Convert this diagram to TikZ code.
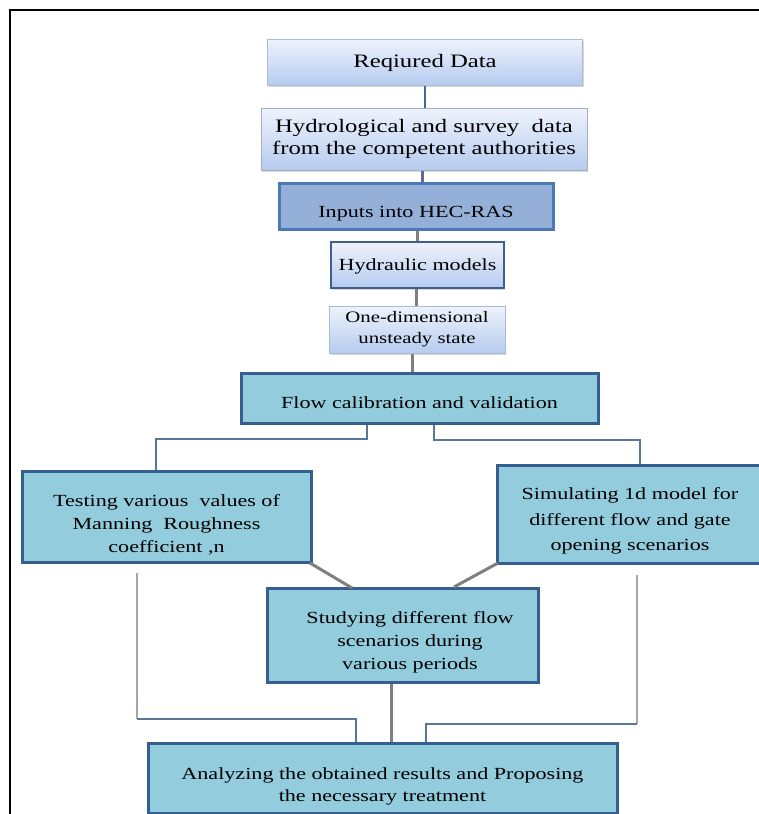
\documentclass[tikz,border=0pt]{standalone}
\usepackage{fontspec}
\setmainfont[FakeStretch=1.3]{Liberation Serif}
\usetikzlibrary{shadings,shadows}
\definecolor{ltop}{HTML}{EEF3FC}
\definecolor{lbot}{HTML}{B6CBEF}
\definecolor{ledge}{HTML}{A9BCD6}
\definecolor{dedge}{HTML}{3F5F8F}
\definecolor{midfill}{HTML}{94B0D8}
\definecolor{midedge}{HTML}{4C79B5}
\definecolor{tealfill}{HTML}{93CDDD}
\definecolor{tealedge}{HTML}{365F8F}
\definecolor{conblue}{HTML}{3D6A98}
\definecolor{congrey}{HTML}{7F7F7F}
\definecolor{branch}{HTML}{5A7896}
\definecolor{fbgrey}{HTML}{A6A6A6}
\newcommand\pushdown[1]{\rule{0pt}{#1}}
\begin{document}
\begin{tikzpicture}[x=1pt,y=-1pt,
  base/.style={align=center, inner sep=0pt, text=black},
  lightbox/.style={base, draw=ledge, line width=1pt, top color=ltop, bottom color=lbot,
     drop shadow={shadow xshift=1pt, shadow yshift=-2pt, fill=black!25, opacity=0.6}},
  midbox/.style={base, draw=midedge, line width=3pt, fill=midfill},
  tealbox/.style={base, draw=tealedge, line width=3pt, fill=tealfill},
  fs/.style={font=\fontsize{17}{23}\selectfont},
  thickcon/.style={draw=congrey, line width=3pt},
  bluecon/.style={draw=conblue, line width=2.5pt},
  branchline/.style={draw=branch, line width=1.5pt},
  fbline/.style={draw=fbgrey, line width=1.2pt},
]
\useasboundingbox (0,0) rectangle (759,814);
\fill[white] (0,0) rectangle (759,814);
\draw[black, line width=2pt] (10,814) -- (10,10) -- (759,10);

% boxes
\node[lightbox, minimum width=315pt, minimum height=46pt, font=\fontsize{19}{22}\selectfont] (req) at (425,62) {\pushdown{16pt}Reqiured Data};
\node[lightbox, draw=ledge!80!gray, minimum width=326pt, minimum height=62pt, font=\fontsize{19}{22}\selectfont] (hyd) at (424,139) {Hydrological and survey\ \ data\\from the competent authorities};
\node[midbox, fs, minimum width=274pt, minimum height=46pt] (inp) at (416,206) {\pushdown{26pt}Inputs into HEC-RAS};
\node[lightbox, draw=dedge, line width=2pt, fs, minimum width=173pt, minimum height=46pt] (hm) at (417.5,265) {\pushdown{15pt}Hydraulic models};
\node[lightbox, font=\fontsize{16}{21}\selectfont, minimum width=176pt, minimum height=47pt] (one) at (417,329.5) {One-dimensional\\unsteady state};
\node[tealbox, fs, minimum width=357pt, minimum height=50pt] (flow) at (419.5,398) {\pushdown{22pt}Flow calibration and validation};
\node[tealbox, fs, minimum width=289pt, minimum height=91pt] (test) at (166.5,516.5) {\pushdown{28pt}Testing various\ \ values of\\Manning\ \ Roughness\\coefficient ,n};
\node[tealbox, minimum width=266pt, minimum height=98pt, font=\fontsize{17}{25.5}\selectfont] (sim) at (630,514) {\pushdown{26pt}Simulating 1d model for\\different flow and gate\\opening scenarios};
\node[tealbox, fs, minimum width=271pt, minimum height=94pt] (stud) at (403,635) {\pushdown{26pt}\hspace*{14pt}Studying different flow\\\hspace*{14pt}scenarios during\\\hspace*{14pt}various periods};
\node[tealbox, minimum width=469pt, minimum height=70pt, font=\fontsize{17}{22}\selectfont] (ana) at (382.5,778) {\pushdown{28pt}Analyzing the obtained results and Proposing\\the necessary treatment};

% coordinates
\coordinate (bl) at (367,439);
\coordinate (bll) at (156,439);
\coordinate (br) at (434,440);
\coordinate (brr) at (640,440);
\coordinate (dl1) at (310,563);
\coordinate (dl2) at (352,588);
\coordinate (dr1) at (498,563);
\coordinate (dr2) at (454,587);
\coordinate (sa) at (391,0);
\coordinate (fl1) at (137,573);
\coordinate (fl2) at (137,719);
\coordinate (fl3) at (356,719);
\coordinate (fr1) at (637,575);
\coordinate (fr2) at (637,724);
\coordinate (fr3) at (426,724);

% connectors
\draw[bluecon] (req.south) -- (req.south |- hyd.north);
\draw[thickcon, draw=gray!80!blue] (hyd.south -| 422,0) -- (inp.north -| 422,0);
\draw[thickcon] (inp.south -| hm.north) -- (hm.north);
\draw[thickcon] (hm.south -| 416,0) -- (one.north -| 416,0);
\draw[thickcon] (one.south -| 412,0) -- (flow.north -| 412,0);
\draw[branchline] (bl |- flow.south) -- (bl) -- (bll) -- (bll |- test.north);
\draw[branchline] (br |- flow.south) -- (br) -- (brr) -- (brr |- sim.north);
\draw[thickcon] (dl1) -- (dl2);
\draw[thickcon] (dr1) -- (dr2);
\draw[thickcon] (sa |- stud.south) -- (sa |- ana.north);
\draw[fbline] (fl1) -- (fl2);
\draw[branchline, line width=1.3pt] (fl2) -- (fl3) -- (fl3 |- ana.north);
\draw[fbline] (fr1) -- (fr2);
\draw[branchline, line width=1.3pt] (fr2) -- (fr3) -- (fr3 |- ana.north);
\end{tikzpicture}
\end{document}
